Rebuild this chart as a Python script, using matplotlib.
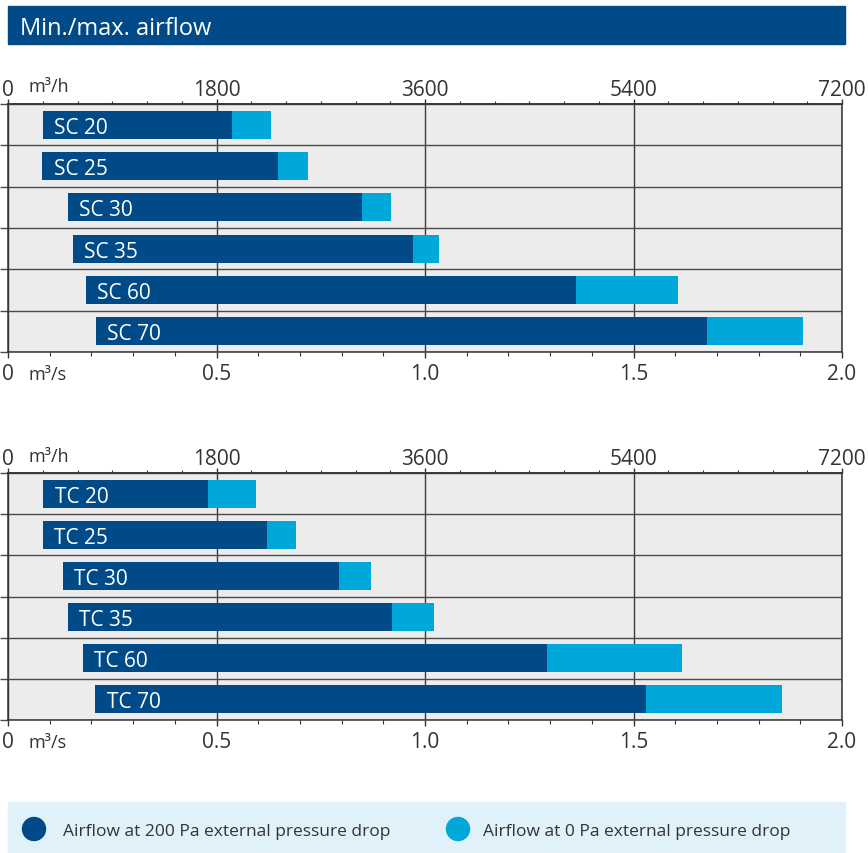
import numpy as np
import matplotlib
matplotlib.use("Agg")
import matplotlib.pyplot as plt
from matplotlib.patches import Rectangle, Ellipse
from matplotlib.ticker import MultipleLocator

plt.rcParams['font.family'] = ['Open Sans', 'DejaVu Sans']

# ---------------- data (m³/s) ----------------
title = "Min./max. airflow"
sc_names = ["SC 20", "SC 25", "SC 30", "SC 35", "SC 60", "SC 70"]
sc_min = [0.084, 0.082, 0.144, 0.156, 0.187, 0.211]
sc_200pa = [0.537, 0.647, 0.849, 0.971, 1.362, 1.676]
sc_0pa = [0.631, 0.719, 0.918, 1.034, 1.607, 1.906]

tc_names = ["TC 20", "TC 25", "TC 30", "TC 35", "TC 60", "TC 70"]
tc_min = [0.085, 0.084, 0.132, 0.144, 0.180, 0.209]
tc_200pa = [0.480, 0.621, 0.794, 0.921, 1.293, 1.530]
tc_0pa = [0.595, 0.691, 0.870, 1.022, 1.616, 1.856]

ms_ticks = [0, 0.5, 1.0, 1.5, 2.0]
ms_labels = ["0", "0.5", "1.0", "1.5", "2.0"]
mh_ticks = [0, 1800, 3600, 5400, 7200]
mh_labels = ["0", "1800", "3600", "5400", "7200"]
unit_top = "m³/h"
unit_bottom = "m³/s"
legend_labels = ["Airflow at 200 Pa external pressure drop",
                 "Airflow at 0 Pa external pressure drop"]

DARK = '#004a87'
LIGHT = '#00a8d9'
GREY = '#ececec'
TXT = '#333333'

W, H = 868, 854
fig = plt.figure(figsize=(W / 100, H / 100), dpi=100)


def rect(l, t, r, b):
    return [l / W, 1 - b / H, (r - l) / W, (b - t) / H]


def draw_chart(ax, names, vmin, v200, v0):
    n = len(names)
    y = np.arange(n)
    vmin = np.array(vmin); v200 = np.array(v200); v0 = np.array(v0)
    ax.set_facecolor(GREY)
    ax.set_axisbelow(True)
    ax.barh(y, v200 - vmin, left=vmin, height=0.68, color=DARK, zorder=2)
    ax.barh(y, v0 - v200, left=v200, height=0.68, color=LIGHT, zorder=2)
    for i, name in enumerate(names):
        ax.annotate(name, xy=(vmin[i], y[i]), xytext=(8.2, 0),
                    textcoords='offset points', ha='left', va='center_baseline',
                    color='white', fontsize=15, zorder=3)
    ax.set_xlim(0, 2.0)
    ax.set_ylim(n - 0.5, -0.5)
    # bottom axis (m³/s)
    ax.set_xticks(ms_ticks)
    ax.set_xticklabels(ms_labels)
    ax.xaxis.set_minor_locator(MultipleLocator(0.1))
    ax.tick_params(axis='x', which='major', length=4.3, width=1.0, color=TXT,
                   labelsize=15, labelcolor=TXT, pad=3.4)
    ax.tick_params(axis='x', which='minor', length=2.9, width=0.8, color=TXT)
    ax.xaxis.grid(True, which='major', color='#3a3a3a', lw=1.0)
    # rows
    ax.set_yticks(np.arange(-0.5, n, 1.0))
    ax.yaxis.grid(True, color='#4a4a4a', lw=1.0)
    ax.tick_params(axis='y', length=5.8, width=1.0, color='#4a4a4a',
                   labelleft=False, direction='out')
    for s in ax.spines.values():
        s.set_color('#333333')
        s.set_linewidth(1.1)
    # top axis (m³/h)
    sec = ax.secondary_xaxis('top', functions=(lambda v: v * 3600, lambda q: q / 3600))
    sec.set_xticks(mh_ticks)
    sec.set_xticklabels(mh_labels)
    sec.xaxis.set_minor_locator(MultipleLocator(300))
    sec.tick_params(axis='x', which='major', length=3.6, width=1.0, color=TXT,
                    labelsize=15, labelcolor=TXT, pad=-0.5)
    sec.tick_params(axis='x', which='minor', length=2.2, width=0.8, color=TXT)
    sec.spines['top'].set_color('#333333')
    sec.spines['top'].set_linewidth(1.1)
    # unit labels
    ax.annotate(unit_top, xy=(0, 1), xycoords='axes fraction', xytext=(14.4, 9.0),
                textcoords='offset points', ha='left', va='baseline',
                fontsize=13, color=TXT)
    ax.annotate(unit_bottom, xy=(0, 0), xycoords='axes fraction', xytext=(14.4, -19.2),
                textcoords='offset points', ha='left', va='baseline',
                fontsize=13, color=TXT)


ax1 = fig.add_axes(rect(8, 105, 842, 353))
draw_chart(ax1, sc_names, sc_min, sc_200pa, sc_0pa)
ax2 = fig.add_axes(rect(8, 474, 842, 721))
draw_chart(ax2, tc_names, tc_min, tc_200pa, tc_0pa)

# overlay for header and legend
ov = fig.add_axes([0, 0, 1, 1])
ov.set_xlim(0, W)
ov.set_ylim(H, 0)
ov.axis('off')
ov.set_zorder(-1)
ov.add_patch(Rectangle((8, 7), 837, 38, color=DARK))
ov.text(20.5, 35, title, color='white', fontsize=17, ha='left', va='baseline')

ov.add_patch(Rectangle((8, 803), 837, 52, color='#e1f1fa'))
for cx, tx, col, lab in [(34, 63, DARK, legend_labels[0]), (458, 483, LIGHT, legend_labels[1])]:
    ov.add_patch(Ellipse((cx, 830), 23, 23, color=col))
    ov.text(tx, 830, lab, color=TXT, fontsize=12.5, ha='left', va='center_baseline')

fig.savefig('out.png', dpi=100)
